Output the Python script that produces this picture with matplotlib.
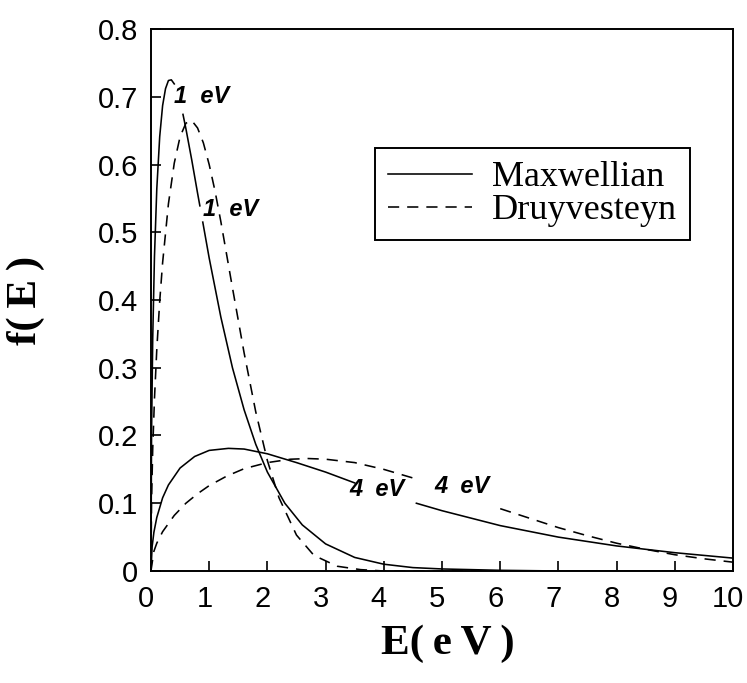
import numpy as np
import matplotlib
matplotlib.use("Agg")
import matplotlib.pyplot as plt
import matplotlib.transforms as mtransforms

nan = np.nan

# values (nan = gap where a curve label sits)
maxw1_e = [0, 0.01, 0.03, 0.06, 0.1, 0.15, 0.2, 0.25, 0.3, 0.35, 0.4, nan,
           0.55, 0.6, 0.7, 0.8, 0.84, nan,
           0.89, 1.0, 1.2, 1.4, 1.6, 1.8, 2.0, 2.3, 2.6, 3.0, 3.5, 4.0, 4.5, 5.0, 6.0, 7.0, 8.0, 10.0]
maxw1_f = [0, 0.204, 0.343, 0.464, 0.564, 0.641, 0.687, 0.712, 0.724, 0.725, 0.719, nan,
           0.674, 0.653, 0.607, 0.558, 0.539, nan,
           0.515, 0.462, 0.375, 0.300, 0.238, 0.187, 0.146, 0.100, 0.068, 0.040, 0.020, 0.010, 0.005, 0.003, 0.001, 0.0, 0.0, 0.0]

maxw4_e = [0, 0.02, 0.05, 0.1, 0.2, 0.3, 0.5, 0.75, 1.0, 1.33, 1.6, 2.0, 2.5, 3.0, 3.5, nan,
           4.56, 5.0, 6.0, 7.0, 8.0, 9.0, 10.0]
maxw4_f = [0, 0.036, 0.057, 0.079, 0.108, 0.127, 0.152, 0.169, 0.178, 0.181, 0.180, 0.173, 0.160, 0.146, 0.130, nan,
           0.100, 0.089, 0.067, 0.050, 0.037, 0.027, 0.019]

druy1_e = [0, 0.01, 0.03, 0.06, 0.1, 0.15, 0.2, 0.3, 0.4, 0.5, 0.6, 0.7, 0.8, 0.9, 1.0, 1.1, 1.2,
           1.4, 1.6, 1.8, 2.0, 2.2, 2.5, 2.8, 3.2, 3.6, 4.0, 10.0]
druy1_f = [0, 0.104, 0.180, 0.254, 0.327, 0.398, 0.455, 0.542, 0.602, 0.641, 0.661, 0.665, 0.654, 0.632, 0.600, 0.561, 0.516,
           0.418, 0.322, 0.235, 0.163, 0.108, 0.053, 0.023, 0.007, 0.002, 0.0, 0.0]

druy4_e = [0, 0.05, 0.1, 0.2, 0.4, 0.6, 0.8, 1.0, 1.3, 1.6, 2.0, 2.4, 2.7, 3.0, 3.5, 4.0, 4.59, nan,
           6.0, 6.5, 7.0, 7.5, 8.0, 8.5, 9.0, 9.5, 10.0]
druy4_f = [0, 0.029, 0.041, 0.058, 0.082, 0.100, 0.114, 0.126, 0.140, 0.151, 0.160, 0.165, 0.166, 0.165, 0.160, 0.150, 0.135, nan,
           0.092, 0.078, 0.064, 0.052, 0.041, 0.032, 0.024, 0.018, 0.013]

curve_labels = ["1  eV", "1  eV", "4  eV", "4  eV"]
label_e = [0.87, 1.37, 3.88, 5.34]
label_f = [0.700, 0.534, 0.120, 0.124]

x_ticks = list(range(0, 11))
y_ticks = [0, 0.1, 0.2, 0.3, 0.4, 0.5, 0.6, 0.7, 0.8]
y_ticklabels = ["0", "0.1", "0.2", "0.3", "0.4", "0.5", "0.6", "0.7", "0.8"]

fig = plt.figure(figsize=(7.47, 6.83), dpi=100)
ax = fig.add_axes([0.2021, 0.164, 0.7792, 0.7935])

lw = 1.15
dash = (0, (7, 5))
ax.plot(maxw1_e, maxw1_f, color="black", lw=lw, label="Maxwellian")
ax.plot(druy1_e, druy1_f, color="black", lw=lw, ls=dash, label="Druyvesteyn")
ax.plot(maxw4_e, maxw4_f, color="black", lw=lw)
ax.plot(druy4_e, druy4_f, color="black", lw=lw, ls=dash)

for t, xe, yf in zip(curve_labels, label_e, label_f):
    ax.text(xe, yf, t, ha="center", va="center", fontsize=17,
            family="Liberation Sans", fontweight="bold", fontstyle="italic")

ax.set_xlim(0, 10)
ax.set_ylim(0, 0.8)
ax.set_xticks(x_ticks)
ax.set_yticks(y_ticks)
ax.set_yticklabels(y_ticklabels)
ax.tick_params(direction="in", length=7, width=1.2, labelsize=21)
ax.tick_params(axis="y", pad=9)
ax.tick_params(axis="x", pad=10)
for lab in ax.get_xticklabels() + ax.get_yticklabels():
    lab.set_family("Liberation Sans")
# x tick labels sit a little left of their ticks in the scan
shift = mtransforms.ScaledTranslation(-3.5 / 72, 0, fig.dpi_scale_trans)
for lab in ax.get_xticklabels():
    lab.set_transform(lab.get_transform() + shift)
for s in ax.spines.values():
    s.set_linewidth(1.4)

ax.set_xlabel("E(\u2009e\u2009V\u2009)", fontsize=31, family="Liberation Serif", fontweight="bold")
ax.set_ylabel("f(\u2009E\u2009)", fontsize=31, family="Liberation Serif", fontweight="bold")
ax.xaxis.set_label_coords(0.51, -0.099)
ax.yaxis.set_label_coords(-0.182, 0.5)

leg = ax.legend(loc="upper right", bbox_to_anchor=(0.926, 0.780), borderaxespad=0,
                prop={"family": "Liberation Serif", "size": 26}, fancybox=False,
                edgecolor="black", framealpha=1, handlelength=2.35, handletextpad=0.55,
                labelspacing=0.0, borderpad=0.35)
leg.get_frame().set_linewidth(1.4)

fig.savefig("out.png", dpi=100)
